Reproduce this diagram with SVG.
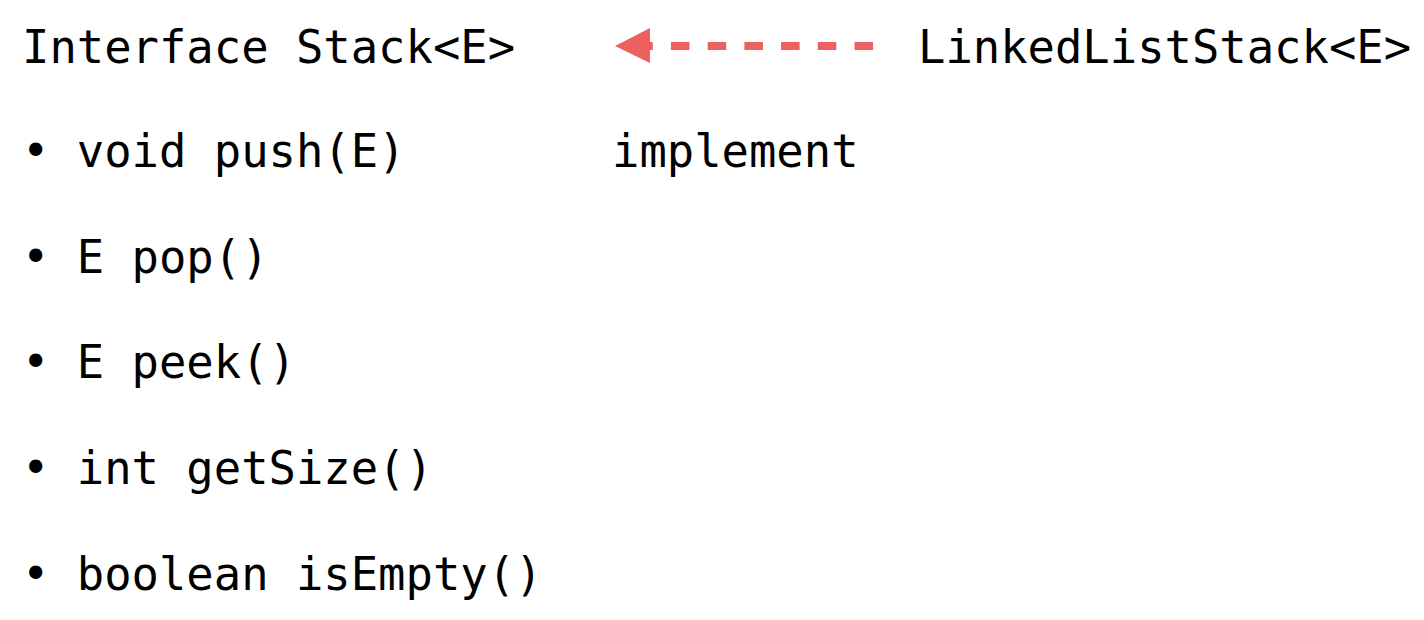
<svg xmlns="http://www.w3.org/2000/svg" width="1424" height="620" viewBox="0 0 1424 620">
<style>
text{font-family:"DejaVu Sans Mono","Liberation Mono",monospace;font-size:45.5px;fill:#000}
.conn{stroke:#ec6060;stroke-width:8;fill:none;stroke-dasharray:18.5 18.2}
</style>
<rect width="1424" height="620" fill="#fff"/>
<g id="interface">
<text x="22" y="63">Interface Stack&lt;E&gt;</text>
<text x="22" y="167">• void push(E)</text>
<text x="22" y="273">• E pop()</text>
<text x="22" y="378">• E peek()</text>
<text x="22" y="484">• int getSize()</text>
<text x="22" y="590">• boolean isEmpty()</text>
</g>
<g id="impl">
<text x="918" y="63">LinkedListStack&lt;E&gt;</text>
</g>
<g id="connectors">
<path class="conn" d="M873,46 L650,46"/>
<path d="M650,28 L615,46 L650,63 Z" fill="#ec6060"/>
<text x="612" y="167">implement</text>
</g>
</svg>
